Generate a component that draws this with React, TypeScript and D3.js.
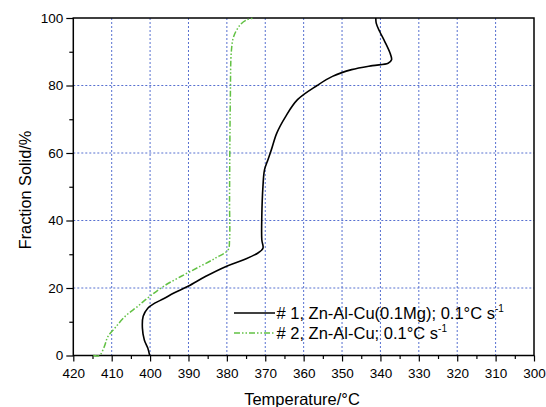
import { useEffect, useRef } from 'react';
import * as d3 from 'd3';

// series #1, Zn-Al-Cu(0.1Mg)
const temp1 = [400.1, 400.6, 401.5, 402.0, 401.8, 400.6, 398.8, 396.5, 393.8, 390.1, 385.6, 380.2, 375.6, 372.0, 370.6, 370.9, 370.9, 370.6, 370.2, 369.3, 368.4, 367.0, 364.7, 361.6, 356.5, 352.5, 347.5, 342.1, 338.0, 337.1, 337.5, 338.9, 340.2, 341.1, 341.2];
const frac1 = [0, 2.2, 4.6, 8.1, 11.6, 14, 15.5, 16.8, 18.5, 20.5, 23.4, 26.4, 28.4, 30.3, 31.8, 34.3, 41.2, 50.1, 55.0, 58, 61, 65.9, 70.8, 75.8, 80.0, 82.7, 84.7, 85.9, 86.6, 87.6, 89.6, 93.1, 96.0, 98.5, 100];

// series #2, Zn-Al-Cu
const temp2 = [414.8, 413.2, 411.9, 411.0, 409.2, 406.5, 403.3, 400.1, 396.5, 392.0, 387.0, 382.9, 379.7, 379.3, 379.3, 379.1, 378.8, 378.2, 376.5, 374.7, 372.8];
const frac2 = [0, 0, 2.7, 5.6, 8.1, 11.6, 14.5, 17.5, 20.5, 23.4, 26.4, 28.9, 31.3, 34.3, 46.1, 75.8, 90.6, 94.6, 98, 99.5, 100];

const xTicks = [420, 410, 400, 390, 380, 370, 360, 350, 340, 330, 320, 310, 300];
const yTicks = [0, 20, 40, 60, 80, 100];

const legend1 = '# 1, Zn-Al-Cu(0.1Mg); 0.1°C s';
const legend2 = '# 2, Zn-Al-Cu; 0.1°C s';

function Chart() {
  const svgRef = useRef<SVGSVGElement>(null);

  useEffect(() => {
    const w = 546, h = 407;
    const left = 73.3, right = 534, top = 18, bottom = 355.5;
    const svg = d3.select(svgRef.current);
    svg.selectAll('*').remove();
    svg.attr('width', w).attr('height', h).style('font-family', 'Liberation Sans, Arial, sans-serif');

    const x = d3.scaleLinear().domain([420, 300]).range([left, right]);
    const y = d3.scaleLinear().domain([0, 100]).range([bottom, top]);

    // grid
    const grid = svg.append('g').attr('stroke', '#5770d0').attr('stroke-width', 1).attr('stroke-dasharray', '2,2');
    xTicks.slice(1, -1).forEach(t => {
      grid.append('line').attr('x1', x(t)).attr('x2', x(t)).attr('y1', top).attr('y2', bottom);
    });
    yTicks.slice(1, -1).forEach(t => {
      grid.append('line').attr('x1', left).attr('x2', right).attr('y1', y(t)).attr('y2', y(t));
    });

    // axes
    const xAxis = svg.append('g').attr('transform', `translate(0,${bottom})`)
      .call(d3.axisBottom(x).tickValues(d3.range(420, 299, -5)).tickFormat(d => (+d % 10 === 0 ? String(d) : '')).tickSizeOuter(0));
    xAxis.selectAll('.tick line').attr('y2', (d: any) => (d % 10 === 0 ? 6 : 3.5)).attr('stroke-width', 1.2);
    xAxis.selectAll('text').attr('font-size', 13.5).attr('dy', null).attr('y', 22.5).attr('fill', '#000');
    xAxis.select('.domain').remove();

    const yAxis = svg.append('g').attr('transform', `translate(${left},0)`)
      .call(d3.axisLeft(y).tickValues(d3.range(0, 101, 10)).tickFormat(d => (+d % 20 === 0 ? String(d) : '')).tickSizeOuter(0));
    yAxis.selectAll('.tick line').attr('x2', (d: any) => (d % 20 === 0 ? -7 : -4)).attr('stroke-width', 1.2);
    yAxis.selectAll('text').attr('font-size', 13.5).attr('x', -10).attr('fill', '#000');
    yAxis.select('.domain').remove();

    svg.append('rect').attr('x', left).attr('y', top).attr('width', right - left).attr('height', bottom - top)
      .attr('fill', 'none').attr('stroke', '#000').attr('stroke-width', 1.5);

    const line = d3.line<[number, number]>().x(d => x(d[0])).y(d => y(d[1])).curve(d3.curveCatmullRom.alpha(0.5));

    svg.append('path').datum(temp2.map((t, i) => [t, frac2[i]] as [number, number]))
      .attr('d', line).attr('fill', 'none').attr('stroke', '#62c144').attr('stroke-width', 1.5)
      .attr('stroke-dasharray', '6,2,1.5,2,1.5,2');
    svg.append('path').datum(temp1.map((t, i) => [t, frac1[i]] as [number, number]))
      .attr('d', line).attr('fill', 'none').attr('stroke', '#000').attr('stroke-width', 1.6);

    // legend
    const lg = svg.append('g');
    lg.append('line').attr('x1', 234).attr('x2', 275).attr('y1', 313).attr('y2', 313).attr('stroke', '#000').attr('stroke-width', 1.6);
    lg.append('line').attr('x1', 234).attr('x2', 275).attr('y1', 333).attr('y2', 333).attr('stroke', '#62c144').attr('stroke-width', 1.5)
      .attr('stroke-dasharray', '6,2,1.5,2,1.5,2');
    const t1 = lg.append('text').attr('x', 276.5).attr('y', 319).attr('font-size', 16.5);
    t1.append('tspan').text(legend1);
    t1.append('tspan').attr('font-size', 10).attr('dy', -7).text('-1');
    const t2 = lg.append('text').attr('x', 276.5).attr('y', 339).attr('font-size', 16.5);
    t2.append('tspan').text(legend2);
    t2.append('tspan').attr('font-size', 10).attr('dy', -7).text('-1');

    // titles
    svg.append('text').attr('x', 302).attr('y', 405).attr('text-anchor', 'middle').attr('font-size', 16.5).text('Temperature/°C');
    svg.append('text').attr('transform', `translate(31,190) rotate(-90)`).attr('text-anchor', 'middle')
      .attr('font-size', 16.3).text('Fraction Solid/%');
  }, []);

  return <svg ref={svgRef} style={{ position: 'absolute', left: 0, top: 0 }} />;
}

export default function App() {
  return <Chart />;
}
